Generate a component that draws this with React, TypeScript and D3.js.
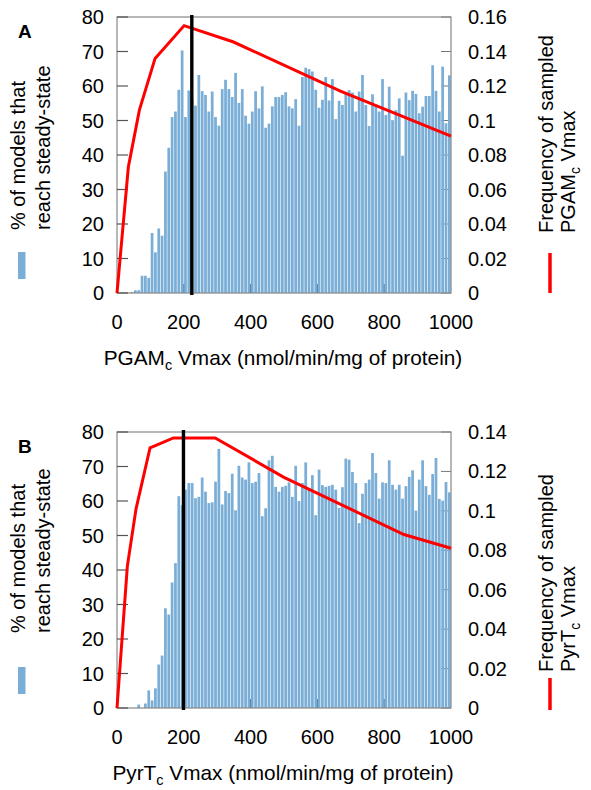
import React from 'react';
import * as d3 from 'd3';

// % of models reaching steady-state, one value per 10-unit Vmax bin (0..1000)
const pgamBars = [
  0, 0, 0, 0, 0.3, 0.8, 0.8, 5, 5, 4.4,
  17.4, 11.8, 18.7, 16.6, 35.2, 42.1, 51, 52.6, 58.9, 70.3,
  51, 58.7, 56, 54.3, 63.2, 58.5, 57.4, 52.6, 58.4, 51,
  48.5, 59.1, 61.8, 59.1, 56.8, 63.8, 55.1, 59.1, 51.4, 49.1,
  52.6, 58.5, 53.5, 59.9, 47.9, 49.1, 54.1, 56.8, 56.8, 57.4,
  58.2, 54.1, 53.5, 56.2, 48.5, 62.6, 65.3, 64.9, 64.2, 58.9,
  53.7, 56, 62.6, 55.8, 62, 50.4, 55.7, 54.5, 58.1, 58.8,
  58.1, 52.6, 58.4, 63.2, 54.5, 48.4, 57.6, 54.5, 52.6, 62,
  51.6, 59.8, 50.1, 53, 56.4, 39.8, 58.1, 55.9, 58.6, 57.7,
  52.1, 54, 57.1, 57.1, 66, 58.6, 52.6, 65.6, 49.2, 63.1,
];
const pyrBars = [
  0, 0, 0, 0, 0, 0, 1, 0, 1.3, 5.1,
  2.2, 5.7, 12.6, 15.2, 28.9, 27.1, 36.4, 42, 61.4, 58.8,
  63.3, 65.2, 65.2, 60.8, 61.2, 66.8, 62.7, 59.4, 59.6, 65.6,
  75.1, 59, 62.9, 62.3, 67.9, 57.3, 70.2, 66.8, 66.2, 71.2,
  65.2, 65.6, 68.1, 55.6, 57.9, 71.8, 73.1, 64.1, 62.7, 64.1,
  64.4, 65.4, 61.2, 70.2, 60, 65.2, 71.2, 63.3, 67.5, 55.9,
  69.1, 64.6, 64.1, 64.4, 64.7, 63.3, 58, 64, 72.3, 72,
  68.4, 65.2, 53.6, 62.1, 65.2, 66.2, 73.9, 68.1, 60.7, 65.4,
  65.2, 71.8, 64.7, 63.3, 64.7, 60.7, 64.3, 67, 68.9, 57.2,
  66.2, 71.8, 64.3, 61.8, 67.8, 72.5, 60.6, 60.1, 65.5, 62.5,
];

// frequency of sampled Vmax (red line)
const pgamFreqX = [0, 34, 67, 114, 201, 349, 669, 1000];
const pgamFreq = [0, 0.073, 0.106, 0.136, 0.155, 0.1455, 0.117, 0.091];
const pyrFreqX = [0, 31, 57, 99, 169, 294, 500, 859, 1000];
const pyrFreq = [0, 0.072, 0.101, 0.132, 0.137, 0.137, 0.117, 0.088, 0.081];

// black threshold line
const pgamCut = 224;
const pyrCut = 199;

const xTicks = [0, 200, 400, 600, 800, 1000];
const leftTicks = [0, 10, 20, 30, 40, 50, 60, 70, 80];
const rightTicksA = ['0', '0.02', '0.04', '0.06', '0.08', '0.1', '0.12', '0.14', '0.16'];
const rightTicksB = ['0', '0.02', '0.04', '0.06', '0.08', '0.1', '0.12', '0.14'];

const FONT = '"Liberation Sans", Arial, sans-serif';
const FS = 20;

const Panel = ({top, letter, bars, freqX, freq, cut, rightTicks, rightMax, enzyme,
                 leftTitleY, rightTitleY, redLeg}) => {
  const bottom = top + 276;
  const x = d3.scaleLinear().domain([0, 1000]).range([117, 451]);
  const yL = d3.scaleLinear().domain([0, 80]).range([bottom, top]);
  const yR = d3.scaleLinear().domain([0, rightMax]).range([bottom, top]);
  const bins = d3.range(bars.length).map(i => i * 10);
  const bw = x(10) - x(0);

  const line = d3.line()
    .x(d => x(d[0]))
    .y(d => yR(d[1]));
  const pts = freqX.map((v, i) => [v, freq[i]]);

  return (
    <g fontFamily={FONT} fontSize={FS}>
      <text x={18} y={top + 21} fontWeight="bold" fontSize={19}>{letter}</text>

      {/* right ticks sit under the bars */}
      {rightTicks.map((t, i) => (
        <line key={'rt' + i} x1={451} x2={441} y1={yR(+t)} y2={yR(+t)} stroke="#777" strokeWidth={1}/>
      ))}

      {bars.map((v, i) => (
        <rect key={i} x={x(bins[i]) + 0.3} width={bw - 0.6} y={yL(v)} height={bottom - yL(v)} fill="#7aaed6"/>
      ))}

      {xTicks.slice(1, -1).map(t => (
        <line key={'xt' + t} x1={x(t)} x2={x(t)} y1={bottom} y2={bottom - 9} stroke="#4f7fa6" strokeWidth={1}/>
      ))}

      <rect x={117} y={top} width={334} height={276} fill="none" stroke="#888" strokeWidth={1.2}/>
      {leftTicks.map(t => (
        <line key={'lt' + t} x1={117} x2={128} y1={yL(t)} y2={yL(t)} stroke="#555" strokeWidth={1.2}/>
      ))}

      <path d={line(pts)} fill="none" stroke="#ff0000" strokeWidth={3}/>
      <line x1={x(cut)} x2={x(cut)} y1={top - 2} y2={bottom + 2} stroke="#000" strokeWidth={3.4}/>

      {leftTicks.map(t => (
        <text key={'ll' + t} x={104} y={yL(t) + 7} textAnchor="end">{t}</text>
      ))}
      {rightTicks.map((t, i) => (
        <text key={'rl' + i} x={468} y={yR(+t) + 7}>{t}</text>
      ))}
      {xTicks.map(t => (
        <text key={'xl' + t} x={x(t)} y={bottom + 36} textAnchor="middle">{t}</text>
      ))}

      <text x={283} y={bottom + 72} textAnchor="middle" fontSize={20.8}>
        {enzyme}<tspan fontSize={14.5} dy={5}>c</tspan><tspan dy={-5}> Vmax (nmol/min/mg of protein)</tspan>
      </text>

      <g transform={`translate(25,${leftTitleY}) rotate(-90)`}>
        <text x={0} y={0}>% of models that</text>
        <text x={0} y={25}>reach steady-state</text>
      </g>
      <rect x={18} y={top + 235} width={7.5} height={27} fill="#7aaed6"/>

      <g transform={`translate(553,${rightTitleY}) rotate(-90)`}>
        <text x={0} y={0}>Frequency of sampled</text>
        <text x={0} y={22}>{enzyme}<tspan fontSize={14} dy={5}>c</tspan><tspan dy={-5}> Vmax</tspan></text>
      </g>
      <line x1={550} x2={550} y1={redLeg[0]} y2={redLeg[1]} stroke="#ff0000" strokeWidth={3.5}/>
    </g>
  );
};

export default function App() {
  return (
    <svg width={591} height={790} style={{position: 'absolute', left: 0, top: 0, background: '#fff'}}>
      <Panel top={17} letter="A" bars={pgamBars} freqX={pgamFreqX} freq={pgamFreq} cut={pgamCut}
             rightTicks={rightTicksA} rightMax={0.16} enzyme="PGAM"
             leftTitleY={230} rightTitleY={233} redLeg={[253, 293]}/>
      <Panel top={432} letter="B" bars={pyrBars} freqX={pyrFreqX} freq={pyrFreq} cut={pyrCut}
             rightTicks={rightTicksB} rightMax={0.14} enzyme="PyrT"
             leftTitleY={633} rightTitleY={672} redLeg={[678, 710]}/>
    </svg>
  );
}
